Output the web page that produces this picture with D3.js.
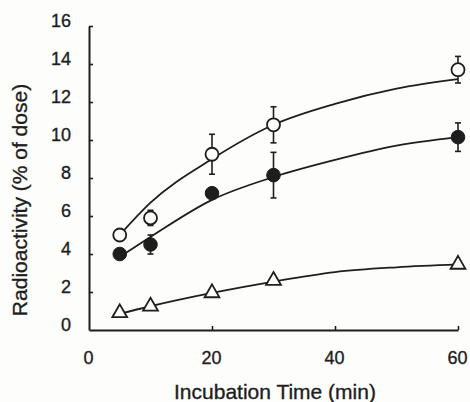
<!DOCTYPE html>
<html>
<head>
<meta charset="utf-8">
<script src="https://cdn.jsdelivr.net/npm/d3@7"></script>
<style>
  body { margin: 0; background: #fdfdfc; }
  svg text { font-family: "Liberation Sans", Arial, sans-serif; fill: #1e1e1e; stroke: #1e1e1e; stroke-width: 0.35px; }
</style>
</head>
<body>
<svg id="svg"></svg>
<script>
// sampled times (min)
const times = [5, 10, 20, 30, 60];

// measured points, % of dose
const openMean = [5.0, 5.9, 9.25, 10.8, 13.7];
const openErr = [0.15, 0.4, 1.05, 0.95, 0.7];
const filledMean = [4.0, 4.5, 7.2, 8.15, 10.15];
const filledErr = [0.2, 0.5, 0.15, 1.2, 0.75];
const triMean = [0.9, 1.25, 1.95, 2.6, 3.45];

// fitted curves
const curveTimes = [5, 10, 20, 30, 40, 50, 60];
const openCurve = [5.0, 6.7, 9.0, 10.8, 11.9, 12.7, 13.2];
const filledCurve = [3.85, 4.9, 6.85, 8.05, 8.95, 9.7, 10.15];
const triCurve = [0.85, 1.25, 1.95, 2.55, 3.05, 3.3, 3.45];

const xTicks = [0, 20, 40, 60];
const yTicks = [0, 2, 4, 6, 8, 10, 12, 14, 16];

const svgWidth = 470, svgHeight = 402;
const svg = d3.select('#svg').attr("width", svgWidth).attr("height", svgHeight);
const ink = "#1e1e1e";

const x = d3.scaleLinear().domain([0, 60]).range([89, 458]);
const y = d3.scaleLinear().domain([0, 16]).range([330, 26]);

// axes, ticks point inward
const gx = svg.append("g").attr("transform", "translate(0,330)")
    .call(d3.axisBottom(x).tickValues(xTicks).tickSizeInner(-4).tickSizeOuter(0).tickPadding(21).tickFormat(d3.format("d")));
gx.selectAll("text").style("font-size", "18px").attr("dx", "-1");

const gy = svg.append("g").attr("transform", "translate(89,0)")
    .call(d3.axisLeft(y).tickValues(yTicks).tickSizeInner(-4).tickSizeOuter(0).tickPadding(18));
gy.selectAll("text").style("font-size", "18px").attr("y", -5);
gy.selectAll(".tick").filter(d => d === 0).select("line").remove();
gx.selectAll(".tick").filter(d => d === 0).select("line").remove();

[gx, gy].forEach(g => {
    g.select(".domain").attr("stroke", ink).attr("stroke-width", 2);
    g.selectAll(".tick line").attr("stroke", ink).attr("stroke-width", 1.6);
});

// fitted lines
const line = d3.line().x(d => x(d[0])).y(d => y(d[1])).curve(d3.curveMonotoneX);
[openCurve, filledCurve, triCurve].forEach(c => {
    svg.append("path").datum(curveTimes.map((t, i) => [t, c[i]]))
        .attr("fill", "none").attr("stroke", ink).attr("stroke-width", 1.8).attr("d", line);
});

// error bars
const drawErr = (means, errs) => {
    const g = svg.append("g").attr("stroke", ink).attr("stroke-width", 1.6);
    times.forEach((t, i) => {
        if (errs[i] < 0.3) return;
        const cx = x(t), top = y(means[i] + errs[i]), bot = y(means[i] - errs[i]);
        g.append("line").attr("x1", cx).attr("x2", cx).attr("y1", top).attr("y2", bot);
        g.append("line").attr("x1", cx - 3).attr("x2", cx + 3).attr("y1", top).attr("y2", top);
        g.append("line").attr("x1", cx - 3).attr("x2", cx + 3).attr("y1", bot).attr("y2", bot);
    });
};
drawErr(openMean, openErr);
drawErr(filledMean, filledErr);

// markers
svg.append("g").selectAll("circle").data(times).join("circle")
    .attr("cx", d => x(d)).attr("cy", (d, i) => y(openMean[i])).attr("r", 6.5)
    .attr("fill", "#fdfdfc").attr("stroke", ink).attr("stroke-width", 1.8);

svg.append("g").selectAll("circle").data(times).join("circle")
    .attr("cx", d => x(d)).attr("cy", (d, i) => y(filledMean[i])).attr("r", 6.8)
    .attr("fill", ink).attr("stroke", ink).attr("stroke-width", 1);

const tri = d3.symbol().type(d3.symbolTriangle).size(95);
svg.append("g").selectAll("path").data(times).join("path")
    .attr("transform", (d, i) => "translate(" + x(d) + "," + y(triMean[i]) + ")")
    .attr("d", tri).attr("fill", "#fdfdfc").attr("stroke", ink).attr("stroke-width", 1.8);

// titles
svg.append("text").attr("x", 275).attr("y", 392).attr("dy", "0.35em")
    .attr("text-anchor", "middle").style("font-size", "21px").text("Incubation Time (min)");

svg.append("text").attr("transform", "translate(20,200) rotate(-90)").attr("dy", "0.35em")
    .attr("text-anchor", "middle").style("font-size", "21px").text("Radioactivity (% of dose)");
</script>
</body>
</html>
